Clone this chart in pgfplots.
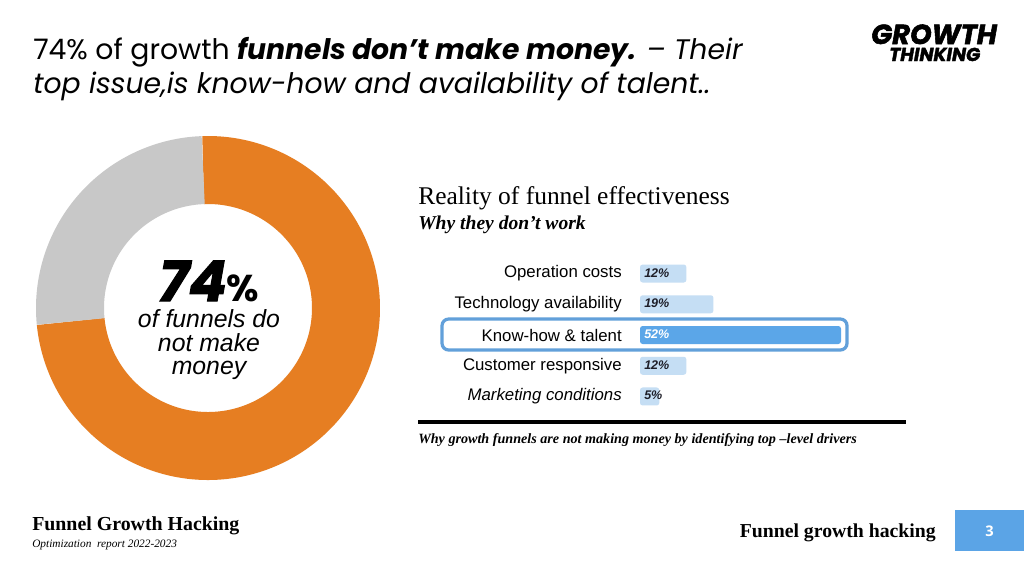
\documentclass[border=0pt]{standalone}
\usepackage{pgfplots}
\usepackage{pgfplotstable}
\pgfplotsset{compat=1.18}
\usepackage{fontspec}
\setmainfont{Liberation Serif}
\newfontfamily\arial{Liberation Sans}
\newfontfamily\pop{Poppins}
\newfontfamily\popheavy{Poppins}[FakeBold=2]
\newfontfamily\opensans{Open Sans}
\definecolor{dorange}{RGB}{230,126,34}
\definecolor{dgray}{RGB}{200,200,200}
\definecolor{lbar}{RGB}{197,222,244}
\definecolor{dbar}{RGB}{91,166,232}
\definecolor{boxblue}{RGB}{98,160,218}
\definecolor{pageblue}{RGB}{91,164,230}
\definecolor{lbltext}{RGB}{30,30,40}

\pgfplotstableread{
label value
NoMoney 74
Money 26
}\donutdata

\pgfplotstableread{
idx val
0 12
1 19
3 12
4 5
}\lightdata

\pgfplotstableread{
idx val
2 52
}\darkdata

\begin{document}
\begin{tikzpicture}
\pgfplotstablegetelem{0}{value}\of\donutdata \let\vA\pgfplotsretval
\pgfplotstablegetelem{1}{value}\of\donutdata \let\vB\pgfplotsretval
\pgfmathsetmacro\startA{92-3.6*\vA}
\pgfmathsetmacro\endB{92+3.6*\vB}
\fill[white] (0pt,0pt) rectangle (768pt,-432pt);

\begin{scope}[x=0.75pt,y=-0.75pt]
\draw[boxblue, line width=2.4pt, rounded corners=5pt, fill=white] (442,319) rectangle (847,350);
\end{scope}

% donut
\begin{axis}[at={(156pt,-231pt)}, anchor=center, scale only axis,
  width=270pt, height=270pt, xmin=-180, xmax=180, ymin=-180, ymax=180,
  hide axis, clip=false]
\addplot[draw=dorange, line width=51pt, domain=\startA:92, samples=300] ({138*cos(x)},{138*sin(x)});
\addplot[draw=dgray, line width=51pt, domain=92:\endB, samples=150] ({138*cos(x)},{138*sin(x)});
\end{axis}

% bars
\begin{axis}[at={(480pt,-193.6pt)}, anchor=north west, scale only axis,
  width=150.75pt, height=115.3pt,
  xbar, bar width=13.5pt, bar shift=0pt,
  xmin=0, xmax=52, ymin=-0.5, ymax=4.5, y dir=reverse,
  axis line style={draw=none}, xtick=\empty, ytick={0,1,2,3,4},
  yticklabels={Operation costs, Technology availability, Know-how \& talent, Customer responsive, \textit{Marketing conditions}},
  major tick length=0pt,
  /pgf/number format/assume math mode=true,
  yticklabel style={font=\arial\fontsize{12.6}{13}\selectfont, inner sep=0pt, xshift=-13.5pt, text=black},
  clip=false]
\addplot[fill=lbar, draw=none, rounded corners=2pt] table[x=val, y=idx] {\lightdata};
\addplot[fill=dbar, draw=none, rounded corners=2pt] table[x=val, y=idx] {\darkdata};
\addplot[draw=none, fill=none, point meta=explicit, nodes near coords={\pgfmathprintnumber{\pgfplotspointmeta}\%},
  nodes near coords style={anchor=west, inner sep=0pt, xshift=3pt, yshift=0.6pt, text=lbltext, font=\arial\bfseries\itshape\fontsize{9.4}{10}\selectfont}]
  table[x expr=0, y=idx, meta=val] {\lightdata};
\addplot[draw=none, fill=none, point meta=explicit, nodes near coords={\pgfmathprintnumber{\pgfplotspointmeta}\%},
  nodes near coords style={anchor=west, inner sep=0pt, xshift=3pt, yshift=0.6pt, text=white, font=\arial\bfseries\itshape\fontsize{9.4}{10}\selectfont}]
  table[x expr=0, y=idx, meta=val] {\darkdata};
\end{axis}

\begin{scope}[x=0.75pt,y=-0.75pt]
% title
\node[anchor=base west, inner sep=0pt, font=\pop\fontsize{21.2}{25}\selectfont] at (33,59)
  {74\% of growth \textbf{\textit{funnels don’t make money.}} \textit{– Their}};
\node[anchor=base west, inner sep=0pt, font=\pop\itshape\fontsize{21.2}{25}\selectfont] at (33,93)
  {top issue,is know-how and availability of talent..};
% logo
\node[anchor=base west, inner sep=0pt, font=\popheavy\bfseries\itshape\fontsize{20.6}{20}\selectfont] at (871,44) {GROWTH};
\node[anchor=base west, inner sep=0pt, font=\popheavy\bfseries\itshape\fontsize{14}{14}\selectfont] at (889,61) {THINKING};
% donut text
\node[anchor=base, inner sep=0pt] at (209,301)
  {{\popheavy\bfseries\itshape\fontsize{42}{42}\selectfont 74}{\pop\bfseries\fontsize{28}{28}\selectfont\%}};
\node[anchor=base, inner sep=0pt, font=\arial\itshape\fontsize{18.6}{18}\selectfont] at (209,327) {of funnels do};
\node[anchor=base, inner sep=0pt, font=\arial\itshape\fontsize{18.6}{18}\selectfont] at (209,351) {not make};
\node[anchor=base, inner sep=0pt, font=\arial\itshape\fontsize{18.6}{18}\selectfont] at (209,374) {money};
% right headings
\node[anchor=base west, inner sep=0pt, font=\fontsize{19.1}{22}\selectfont] at (418,204) {Reality of funnel effectiveness};
\node[anchor=base west, inner sep=0pt, font=\bfseries\itshape\fontsize{14.7}{17}\selectfont] at (418,229) {Why they don’t work};
\fill[black] (418,419.5) rectangle (906,423.5);
\node[anchor=base west, inner sep=0pt, font=\bfseries\itshape\fontsize{10.6}{12}\selectfont] at (418,443)
  {Why growth funnels are not making money by identifying top –level drivers};
% footer
\node[anchor=base west, inner sep=0pt, font=\bfseries\fontsize{14.9}{17}\selectfont] at (32,530) {Funnel Growth Hacking};
\node[anchor=base west, inner sep=0pt, font=\itshape\fontsize{8.5}{10}\selectfont] at (32,547) {Optimization\ \ report 2022-2023};
\node[anchor=base east, inner sep=0pt, font=\bfseries\fontsize{14.8}{17}\selectfont] at (936,537) {Funnel growth hacking};
\fill[pageblue] (955,510) rectangle (1024,551);
\node[inner sep=0pt, text=white, font=\opensans\bfseries\fontsize{11}{12}\selectfont] at (989.5,531) {3};
\end{scope}
\end{tikzpicture}
\end{document}
